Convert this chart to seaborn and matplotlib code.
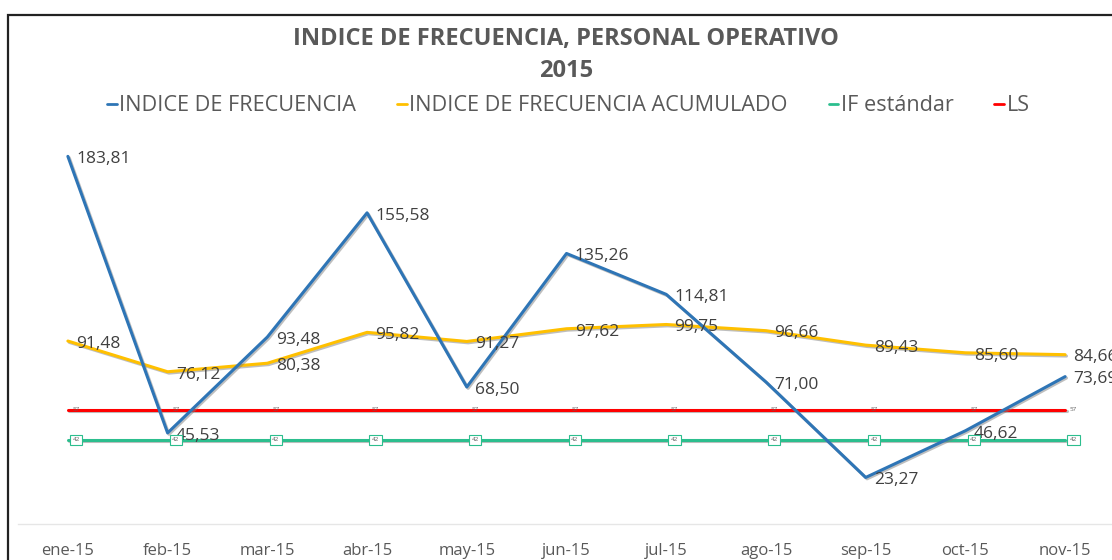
import matplotlib
matplotlib.use("Agg")
import matplotlib.pyplot as plt
import matplotlib.patheffects as pe
from matplotlib.patches import Rectangle
from matplotlib.lines import Line2D
import pandas as pd
import seaborn as sns

# data
meses = ['ene-15', 'feb-15', 'mar-15', 'abr-15', 'may-15', 'jun-15',
         'jul-15', 'ago-15', 'sep-15', 'oct-15', 'nov-15']
indice_frecuencia = [183.81, 45.53, 93.48, 155.58, 68.50, 135.26,
                     114.81, 71.00, 23.27, 46.62, 73.69]
indice_acumulado = [91.48, 76.12, 80.38, 95.82, 91.27, 97.62,
                    99.75, 96.66, 89.43, 85.60, 84.66]
if_estandar = [42] * len(meses)
ls_limite = [57] * len(meses)

df = pd.DataFrame({
    'pos': range(len(meses)),
    'mes': meses,
    'INDICE DE FRECUENCIA': indice_frecuencia,
    'INDICE DE FRECUENCIA ACUMULADO': indice_acumulado,
    'IF estándar': if_estandar,
    'LS': ls_limite,
})

sns.set_theme(style="white")
plt.rcParams['font.family'] = ['Open Sans', 'DejaVu Sans']

GRAY = '#595959'
colors = {
    'INDICE DE FRECUENCIA': '#2E75B6',
    'INDICE DE FRECUENCIA ACUMULADO': '#FFC000',
    'IF estándar': '#2CBE8E',
    'LS': '#FF0000',
}

fig = plt.figure(figsize=(11.12, 5.6), dpi=100)
ax = fig.add_axes([0.0162, 0.0643, 0.9838, 0.7143])

shadow = [pe.SimpleLineShadow(offset=(1, -1), shadow_color='#7f7f7f', alpha=0.5), pe.Normal()]
for col in ['LS', 'IF estándar', 'INDICE DE FRECUENCIA ACUMULADO', 'INDICE DE FRECUENCIA']:
    sns.lineplot(data=df, x='pos', y=col, ax=ax, color=colors[col], linewidth=2.2,
                 path_effects=shadow, clip_on=False)

# big data labels
for col in ['INDICE DE FRECUENCIA', 'INDICE DE FRECUENCIA ACUMULADO']:
    for x, v in zip(df['pos'], df[col]):
        ax.annotate(f"{v:.2f}".replace('.', ','), (x, v), xytext=(6, -2),
                    textcoords='offset points', ha='left', va='center',
                    fontsize=12.5, color='#404040', annotation_clip=False)

# tiny labels on the constant lines
for x, v in zip(df['pos'], df['LS']):
    ax.annotate(f"{v}", (x, v), xytext=(6, 0), textcoords='offset points',
                ha='center', va='center', fontsize=4.5, color='#606060',
                annotation_clip=False)
for x, v in zip(df['pos'], df['IF estándar']):
    ax.annotate(f"{v}", (x, v), xytext=(6, 0), textcoords='offset points',
                ha='center', va='center', fontsize=4.5, color='#606060',
                annotation_clip=False,
                bbox=dict(boxstyle='square,pad=0.4', fc='white', ec='#2CBE8E', lw=0.8))

ax.set_xlim(-0.5, 10.47)
ax.set_ylim(0, 200)
ax.set_xticks(df['pos'])
ax.set_xticklabels(meses, fontsize=12, color=GRAY)
ax.tick_params(axis='x', length=0, pad=14)
ax.set_yticks([])
ax.set_xlabel('')
ax.set_ylabel('')
for s in ['top', 'right', 'left']:
    ax.spines[s].set_visible(False)
ax.spines['bottom'].set_color('#e6e6e6')
ax.spines['bottom'].set_linewidth(1)

fig.text(0.509, 0.931, 'INDICE DE FRECUENCIA, PERSONAL OPERATIVO', ha='center', va='center',
         fontsize=17, fontweight='bold', color=GRAY)
fig.text(0.509, 0.874, '2015', ha='center', va='center',
         fontsize=17, fontweight='bold', color=GRAY)

handles = [Line2D([0], [0], color=colors[k], lw=2) for k in colors]
fig.legend(handles, list(colors.keys()), loc='center', bbox_to_anchor=(0.511, 0.811),
           ncol=4, frameon=False, fontsize=15.6, handlelength=0.45, handletextpad=0.1,
           columnspacing=1.9, labelcolor=GRAY)

# outer chart frame (screenshot cut on the right and bottom)
fig.patches.append(Rectangle((8 / 1112, -0.1), 1.2, 1 - 15 / 560 + 0.1,
                             transform=fig.transFigure, fill=False,
                             edgecolor='#222222', lw=1.6))

fig.savefig('out.png', dpi=100)
